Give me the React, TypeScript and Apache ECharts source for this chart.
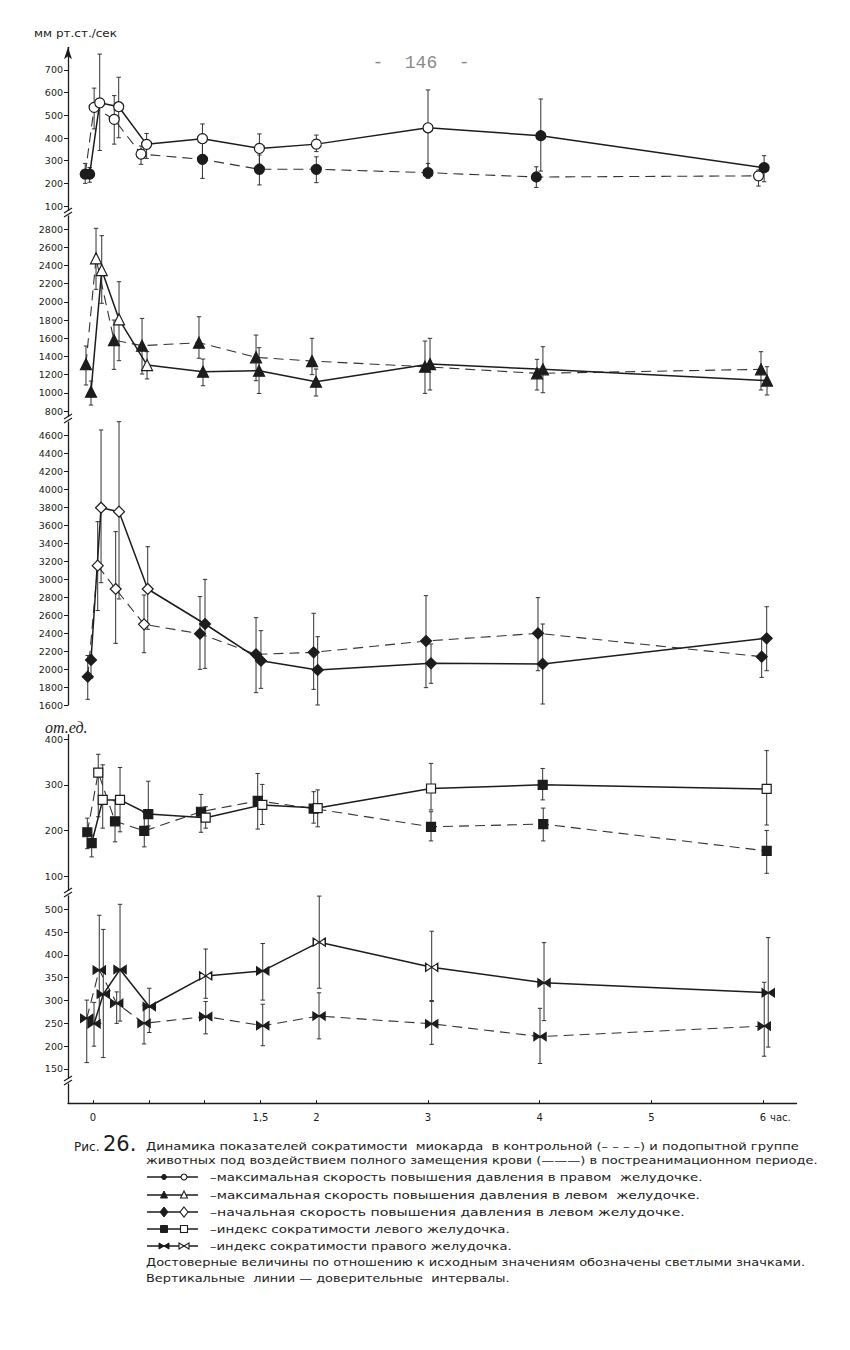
import React, { useEffect, useRef } from "react";
import * as echarts from "echarts";

// ---------- Panel 1: max rate of pressure rise, right ventricle (mm Hg/s)
const p1CtrlT = [-0.07, 0.01, 0.19, 0.43, 0.98, 1.49, 2.0, 3.0, 3.97, 5.96];
const p1CtrlV = [241, 535, 482, 329, 306, 262, 262, 247, 228, 233];
const p1CtrlLo = [200, 440, 373, 284, 222, 193, 203, 222, 182, 188];
const p1CtrlHi = [288, 620, 587, 365, 376, 325, 317, 288, 273, 259];
const p1CtrlOpen = [0, 1, 1, 1, 0, 0, 0, 0, 0, 1];
const p1ExpT = [-0.03, 0.06, 0.23, 0.48, 0.98, 1.49, 2.0, 3.0, 4.01, 6.01];
const p1ExpV = [241, 555, 538, 372, 397, 354, 373, 445, 410, 269];
const p1ExpLo = [205, 345, 401, 310, 325, 285, 340, 259, 254, 207];
const p1ExpHi = [270, 770, 668, 420, 462, 418, 413, 612, 572, 322];
const p1ExpOpen = [0, 1, 1, 1, 1, 1, 1, 1, 0, 0];
const p1Ticks = [100, 200, 300, 400, 500, 600, 700];

// ---------- Panel 2: max rate of pressure rise, left ventricle
const p2CtrlT = [-0.063, 0.027, 0.188, 0.439, 0.949, 1.46, 1.961, 2.973, 3.976, 5.982];
const p2CtrlV = [1316, 2478, 1580, 1518, 1551, 1390, 1349, 1287, 1214, 1258];
const p2CtrlLo = [1086, 2137, 1258, 1207, 1380, 1133, 1200, 994, 1031, 1031];
const p2CtrlHi = [1514, 2808, 1800, 1818, 1836, 1635, 1599, 1569, 1368, 1452];
const p2CtrlOpen = [0, 1, 0, 0, 0, 0, 0, 0, 0, 0];
const p2ExpT = [-0.018, 0.078, 0.233, 0.484, 0.985, 1.487, 1.997, 3.018, 4.029, 6.036];
const p2ExpV = [1012, 2349, 1808, 1305, 1232, 1243, 1122, 1316, 1258, 1135];
const p2ExpLo = [866, 1984, 1353, 1152, 1078, 993, 965, 1031, 1001, 976];
const p2ExpHi = [1130, 2727, 2221, 1452, 1371, 1496, 1262, 1599, 1507, 1287];
const p2ExpOpen = [0, 1, 1, 1, 0, 0, 0, 0, 0, 0];
const p2Ticks = [800, 1000, 1200, 1400, 1600, 1800, 2000, 2200, 2400, 2600, 2800];

// ---------- Panel 3: initial rate of pressure rise, left ventricle
const p3CtrlT = [-0.047, 0.042, 0.203, 0.457, 0.958, 1.46, 1.976, 2.982, 3.985, 5.988];
const p3CtrlV = [1915, 3148, 2889, 2496, 2392, 2163, 2185, 2311, 2396, 2137];
const p3CtrlLo = [1663, 2650, 2285, 2181, 1996, 1737, 1774, 1793, 1981, 1907];
const p3CtrlHi = [2150, 3637, 3526, 2822, 2804, 2570, 2619, 2815, 2793, 2340];
const p3CtrlOpen = [0, 1, 1, 1, 0, 0, 0, 0, 0, 0];
const p3ExpT = [-0.018, 0.072, 0.233, 0.49, 1.003, 1.504, 2.012, 3.027, 4.027, 6.033];
const p3ExpV = [2100, 3792, 3748, 2889, 2500, 2092, 1989, 2063, 2056, 2341];
const p3ExpLo = [1900, 2959, 2778, 2441, 2007, 1785, 1600, 1841, 1611, 1981];
const p3ExpHi = [2155, 4656, 4748, 3359, 2996, 2426, 2359, 2278, 2500, 2692];
const p3ExpOpen = [0, 1, 1, 1, 0, 0, 0, 0, 0, 0];
const p3Ticks = [1600, 1800, 2000, 2200, 2400, 2600, 2800, 3000, 3200, 3400, 3600, 3800, 4000, 4200, 4400, 4600];

// ---------- Panel 4: contractility index, left ventricle (rel. units)
const p4CtrlT = [-0.051, 0.047, 0.197, 0.459, 0.967, 1.475, 1.976, 3.027, 4.032, 6.033];
const p4CtrlV = [196, 327, 220, 199, 241, 265, 248, 208, 214, 155];
const p4CtrlLo = [160, 230, 175, 164, 196, 203, 216, 177, 177, 106];
const p4CtrlHi = [227, 367, 265, 240, 279, 325, 285, 241, 249, 200];
const p4CtrlOpen = [0, 1, 0, 0, 0, 0, 0, 0, 0, 0];
const p4ExpT = [-0.012, 0.087, 0.242, 0.495, 1.009, 1.516, 2.012, 3.027, 4.027, 6.033];
const p4ExpV = [172, 267, 267, 236, 228, 256, 249, 292, 300, 291];
const p4ExpLo = [142, 205, 197, 210, 205, 213, 208, 245, 267, 212];
const p4ExpHi = [190, 344, 338, 308, 252, 301, 289, 347, 336, 375];
const p4ExpOpen = [0, 1, 1, 0, 1, 1, 1, 1, 0, 1];
const p4Ticks = [100, 200, 300, 400];

// ---------- Panel 5: contractility index, right ventricle
const p5CtrlT = [-0.056, 0.056, 0.212, 0.457, 1.009, 1.52, 2.024, 3.033, 4.003, 6.011];
const p5CtrlV = [261, 367, 294, 250, 265, 245, 266, 249, 221, 244];
const p5CtrlLo = [164, 250, 250, 205, 227, 201, 216, 204, 162, 178];
const p5CtrlHi = [301, 487, 319, 290, 298, 292, 317, 298, 283, 340];
const p5CtrlOpen = [0, 0, 0, 0, 0, 0, 0, 0, 0, 0];
const p5ExpT = [0.009, 0.092, 0.242, 0.504, 1.009, 1.52, 2.026, 3.033, 4.039, 6.047];
const p5ExpV = [249, 314, 368, 287, 354, 365, 428, 373, 339, 317];
const p5ExpLo = [200, 175, 255, 230, 305, 301, 327, 300, 256, 198];
const p5ExpHi = [296, 456, 511, 327, 413, 425, 529, 452, 427, 438];
const p5ExpOpen = [0, 0, 0, 0, 1, 0, 1, 1, 0, 0];
const p5Ticks = [150, 200, 250, 300, 350, 400, 450, 500];

// ---------- x axis (hours)
const xTickValues = [0, 0.5, 1, 1.5, 2, 3, 4, 5, 6];
const xLabelValues = [0, 1.5, 2, 3, 4, 5, 6];

// ---------- texts
const yUnit = "мм рт.ст./сек";
const yUnit2 = "от.ед.";
const pageNo = "-  146  -";
const figNo = "Рис.";
const figNum = "26.";
const captionLines = [
  "Динамика показателей сократимости  миокарда  в контрольной (– – – –) и подопытной группе",
  "животных под воздействием полного замещения крови (———) в постреанимационном периоде.",
];
const legendTexts = [
  "–максимальная скорость повышения давления в правом  желудочке.",
  "–максимальная скорость повышения давления в левом  желудочке.",
  "–начальная скорость повышения давления в левом желудочке.",
  "–индекс сократимости левого желудочка.",
  "–индекс сократимости правого желудочка.",
];
const noteLines = [
  "Достоверные величины по отношению к исходным значениям обозначены светлыми значками.",
  "Вертикальные  линии — доверительные  интервалы.",
];

const INK = "#1c1c1c";
const FONT = "DejaVu Sans";
const BOWTIE = "path://M0,0L10,6L0,12ZM20,0L10,6L20,12Z";

function measure(text: string, font: string): number {
  const c = document.createElement("canvas").getContext("2d");
  if (!c) return text.length * 7;
  c.font = font;
  return c.measureText(text).width || 1;
}

function fitText(text: string, x: number, y: number, width: number, size: number, extra: any = {}) {
  const w = measure(text, `${size}px "${FONT}"`);
  return {
    type: "text",
    x,
    y,
    scaleX: width / w,
    z: 10,
    style: {
      text,
      fontSize: size,
      fontFamily: FONT,
      fill: INK,
      textVerticalAlign: "middle",
      verticalAlign: "middle",
      ...extra,
    },
  };
}

export default function App() {
  const ref = useRef<HTMLDivElement>(null);

  useEffect(() => {
    if (!ref.current) return;
    const chart = echarts.init(ref.current, null, { renderer: "svg" });

    const XMIN = -0.224;
    const XMAX = 6.3;
    const LEFT = 68;
    const RIGHT = 53.5;

    const panels = [
      { top: 47.3, height: 167.8, min: 60, max: 800, ticks: p1Ticks, symbol: "circle", size: 10,
        c: [p1CtrlT, p1CtrlV, p1CtrlLo, p1CtrlHi, p1CtrlOpen], e: [p1ExpT, p1ExpV, p1ExpLo, p1ExpHi, p1ExpOpen] },
      { top: 215.4, height: 202.9, min: 720, max: 2950, ticks: p2Ticks, symbol: "triangle", size: 11,
        c: [p2CtrlT, p2CtrlV, p2CtrlLo, p2CtrlHi, p2CtrlOpen], e: [p2ExpT, p2ExpV, p2ExpLo, p2ExpHi, p2ExpOpen] },
      { top: 420.6, height: 284.4, min: 1600, max: 4760, ticks: p3Ticks, symbol: "diamond", size: 11,
        c: [p3CtrlT, p3CtrlV, p3CtrlLo, p3CtrlHi, p3CtrlOpen], e: [p3ExpT, p3ExpV, p3ExpLo, p3ExpHi, p3ExpOpen] },
      { top: 734.7, height: 157.3, min: 65, max: 410, ticks: p4Ticks, symbol: "rect", size: 9,
        c: [p4CtrlT, p4CtrlV, p4CtrlLo, p4CtrlHi, p4CtrlOpen], e: [p4ExpT, p4ExpV, p4ExpLo, p4ExpHi, p4ExpOpen] },
      { top: 892.9, height: 210.3, min: 75, max: 536, ticks: p5Ticks, symbol: BOWTIE, size: [12, 8],
        c: [p5CtrlT, p5CtrlV, p5CtrlLo, p5CtrlHi, p5CtrlOpen], e: [p5ExpT, p5ExpV, p5ExpLo, p5ExpHi, p5ExpOpen] },
    ];

    const grid: any[] = [];
    const xAxis: any[] = [];
    const yAxis: any[] = [];
    const series: any[] = [];

    const errRender = (params: any, api: any) => {
      const x = api.value(0);
      const a = api.coord([x, api.value(1)]);
      const b = api.coord([x, api.value(2)]);
      const cap = 2.2;
      const st = { stroke: "#333", lineWidth: 1 };
      return {
        type: "group",
        children: [
          { type: "line", shape: { x1: a[0], y1: a[1], x2: b[0], y2: b[1] }, style: st },
          { type: "line", shape: { x1: a[0] - cap, y1: a[1], x2: a[0] + cap, y2: a[1] }, style: st },
          { type: "line", shape: { x1: b[0] - cap, y1: b[1], x2: b[0] + cap, y2: b[1] }, style: st },
        ],
      };
    };

    panels.forEach((p, i) => {
      grid.push({ left: LEFT, right: RIGHT, top: p.top, height: p.height });
      const last = i === panels.length - 1;
      xAxis.push({
        gridIndex: i,
        type: "value",
        min: XMIN,
        max: XMAX,
        show: last,
        axisLine: { show: true, onZero: false, lineStyle: { color: INK, width: 1.4 } },
        axisTick: { show: true, inside: true, length: 3, customValues: xTickValues, lineStyle: { color: INK } },
        axisLabel: {
          customValues: xLabelValues,
          fontSize: 10,
          fontFamily: FONT,
          color: INK,
          margin: 9,
          formatter: (v: number) => (v === 1.5 ? "1,5" : String(v)),
        },
        splitLine: { show: false },
      });
      yAxis.push({
        gridIndex: i,
        type: "value",
        min: p.min,
        max: p.max,
        axisLine: {
          show: true,
          onZero: false,
          lineStyle: { color: INK, width: 1.3 },
          symbol: i === 0 ? ["none", "arrow"] : "none",
          symbolSize: [6, 12],
        },
        axisTick: { show: true, length: 4, customValues: p.ticks, lineStyle: { color: INK } },
        axisLabel: {
          customValues: p.ticks,
          fontSize: 9.5,
          fontFamily: FONT,
          color: INK,
          margin: 5,
          formatter: (v: number) => String(v),
        },
        splitLine: { show: false },
      });

      const groups = [
        { d: p.c, dashed: true },
        { d: p.e, dashed: false },
      ];
      groups.forEach((g) => {
        const [t, v, lo, hi, open] = g.d as number[][];
        series.push({
          type: "custom",
          xAxisIndex: i,
          yAxisIndex: i,
          data: t.map((x, k) => [x, lo[k], hi[k]]),
          encode: { x: 0, y: [1, 2] },
          renderItem: errRender,
          silent: true,
          z: 1,
        });
        series.push({
          type: "line",
          xAxisIndex: i,
          yAxisIndex: i,
          data: t.map((x, k) => ({
            value: [x, v[k]],
            itemStyle: open[k] ? { color: "#ffffff" } : undefined,
          })),
          symbol: p.symbol,
          symbolSize: p.size,
          showSymbol: true,
          showAllSymbol: true,
          lineStyle: g.dashed
            ? { color: "#333", width: 1.1, type: [10, 6] }
            : { color: INK, width: 1.5, type: "solid" },
          itemStyle: { color: INK, borderColor: INK, borderWidth: 1.2 },
          silent: true,
          z: 3,
        });
      });
    });

    // graphic elements
    const graphic: any[] = [];
    // axis breaks
    const breaks = [
      [68, 213],
      [68, 419],
      [68, 893],
      [68, 1081],
    ];
    breaks.forEach(([x, y]) => {
      graphic.push({ type: "rect", shape: { x: x - 3, y: y - 2.5, width: 6, height: 5 }, style: { fill: "#fff" }, z: 20 });
      graphic.push({ type: "line", shape: { x1: x - 4, y1: y, x2: x + 4, y2: y - 5 }, style: { stroke: INK, lineWidth: 1.2 }, z: 21 });
      graphic.push({ type: "line", shape: { x1: x - 4, y1: y + 4, x2: x + 4, y2: y - 1 }, style: { stroke: INK, lineWidth: 1.2 }, z: 21 });
    });

    graphic.push(fitText(yUnit, 34, 33, 83, 11));
    graphic.push({
      type: "text",
      x: 45,
      y: 727,
      z: 10,
      style: {
        text: yUnit2,
        fontSize: 16,
        fontFamily: "Liberation Serif",
        fontStyle: "italic",
        fill: INK,
        textVerticalAlign: "middle",
        verticalAlign: "middle",
      },
    });
    graphic.push({
      type: "text",
      x: 421,
      y: 63,
      z: 10,
      style: {
        text: pageNo,
        fontSize: 18,
        fontFamily: "Liberation Mono",
        fill: "#8a8a8a",
        textAlign: "center",
        align: "center",
        textVerticalAlign: "middle",
        verticalAlign: "middle",
      },
    });
    graphic.push({
      type: "text",
      x: 770,
      y: 1117,
      z: 10,
      style: { text: "час.", fontSize: 10, fontFamily: FONT, fill: INK, textVerticalAlign: "middle", verticalAlign: "middle" },
    });

    // caption
    graphic.push({
      type: "text",
      x: 74,
      y: 1147,
      z: 10,
      style: { text: figNo, fontSize: 12, fontFamily: FONT, fill: INK, textVerticalAlign: "middle", verticalAlign: "middle" },
    });
    graphic.push({
      type: "text",
      x: 103,
      y: 1144,
      z: 10,
      style: { text: figNum, fontSize: 21, fontFamily: FONT, fill: INK, textVerticalAlign: "middle", verticalAlign: "middle" },
    });
    graphic.push(fitText(captionLines[0], 146, 1146, 654, 11));
    graphic.push(fitText(captionLines[1], 146, 1160, 672, 11));

    const legendY = [1177, 1195, 1212, 1229, 1246];
    const legendW = [493, 490, 475, 300, 302];
    legendY.forEach((y, i) => {
      graphic.push({ type: "line", shape: { x1: 147, y1: y, x2: 198, y2: y }, style: { stroke: INK, lineWidth: 1.5 }, z: 10 });
      const fx = 164;
      const ox = 184;
      const filled = { fill: INK, stroke: INK, lineWidth: 1 };
      const hollow = { fill: "#fff", stroke: INK, lineWidth: 1.1 };
      if (i === 0) {
        graphic.push({ type: "circle", shape: { cx: fx, cy: y, r: 2.5 }, style: filled, z: 11 });
        graphic.push({ type: "circle", shape: { cx: ox, cy: y, r: 3 }, style: hollow, z: 11 });
      } else if (i === 1) {
        graphic.push({ type: "polygon", shape: { points: [[fx - 3.5, y + 3], [fx + 3.5, y + 3], [fx, y - 4]] }, style: filled, z: 11 });
        graphic.push({ type: "polygon", shape: { points: [[ox - 3.5, y + 3], [ox + 3.5, y + 3], [ox, y - 4]] }, style: hollow, z: 11 });
      } else if (i === 2) {
        graphic.push({ type: "polygon", shape: { points: [[fx, y - 5], [fx + 4, y], [fx, y + 5], [fx - 4, y]] }, style: filled, z: 11 });
        graphic.push({ type: "polygon", shape: { points: [[ox, y - 5], [ox + 4, y], [ox, y + 5], [ox - 4, y]] }, style: hollow, z: 11 });
      } else if (i === 3) {
        graphic.push({ type: "rect", shape: { x: fx - 3.5, y: y - 3.5, width: 7, height: 7 }, style: filled, z: 11 });
        graphic.push({ type: "rect", shape: { x: ox - 3.5, y: y - 3.5, width: 7, height: 7 }, style: hollow, z: 11 });
      } else {
        [fx, ox].forEach((cx, j) => {
          const st = j === 0 ? filled : hollow;
          graphic.push({ type: "polygon", shape: { points: [[cx - 5, y - 3], [cx, y], [cx - 5, y + 3]] }, style: st, z: 11 });
          graphic.push({ type: "polygon", shape: { points: [[cx + 5, y - 3], [cx, y], [cx + 5, y + 3]] }, style: st, z: 11 });
        });
      }
      graphic.push(fitText(legendTexts[i], 210, y, legendW[i], 11));
    });
    graphic.push(fitText(noteLines[0], 146, 1262, 660, 11));
    graphic.push(fitText(noteLines[1], 146, 1278, 364, 11));

    chart.setOption({
      animation: false,
      backgroundColor: "#ffffff",
      grid,
      xAxis,
      yAxis,
      series,
      graphic,
    });

    return () => {
      chart.dispose();
    };
  }, []);

  return (
    <div
      ref={ref}
      style={{ position: "absolute", left: 0, top: 0, width: 850, height: 1350, background: "#fff" }}
    />
  );
}
